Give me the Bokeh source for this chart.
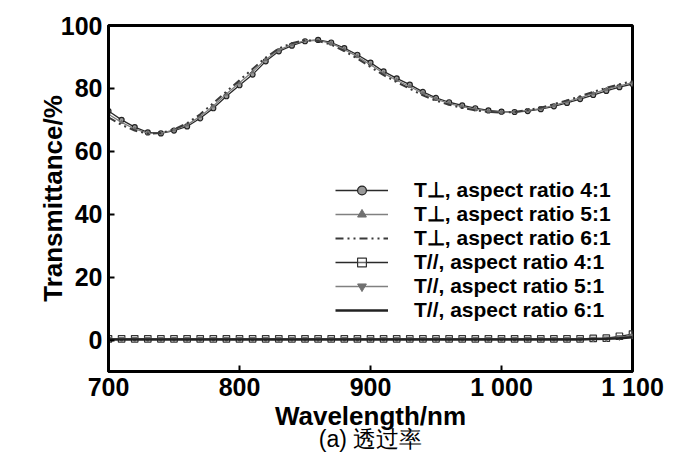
from bokeh.plotting import figure
from bokeh.models import (Range1d, FixedTicker, Legend, LegendItem, LinearAxis,
                          ColumnDataSource)
from bokeh.embed import file_html
from bokeh.resources import INLINE

wavelength = [700, 710, 720, 730, 740, 750, 760, 770, 780, 790,
              800, 810, 820, 830, 840, 850, 860, 870, 880, 890,
              900, 910, 920, 930, 940, 950, 960, 970, 980, 990,
              1000, 1010, 1020, 1030, 1040, 1050, 1060, 1070, 1080, 1090, 1100]

t_perp_4 = [72.8, 70.0, 67.7, 66.0, 65.7, 66.6, 67.9, 70.5, 73.7, 77.5,
            81.0, 84.4, 88.6, 91.8, 93.6, 95.0, 95.4, 94.6, 92.8, 90.7,
            88.2, 85.4, 83.2, 81.2, 78.9, 77.0, 75.6, 74.6, 73.7, 73.0,
            72.6, 72.5, 72.8, 73.4, 74.3, 75.4, 76.6, 77.9, 79.2, 80.4, 81.4]
t_perp_5 = [71.8, 69.2, 67.1, 65.8, 65.7, 66.8, 68.4, 71.1, 74.4, 78.2,
            81.8, 85.3, 89.2, 92.2, 94.0, 95.2, 95.3, 94.3, 92.4, 90.1,
            87.5, 84.8, 82.6, 80.6, 78.4, 76.6, 75.2, 74.2, 73.4, 72.8,
            72.5, 72.5, 73.0, 73.6, 74.6, 75.8, 77.0, 78.4, 79.7, 80.8, 81.8]
t_perp_6 = [70.8, 68.4, 66.6, 65.6, 65.8, 67.0, 68.9, 71.8, 75.3, 79.0,
            82.6, 86.2, 89.8, 92.7, 94.4, 95.3, 95.1, 93.9, 91.9, 89.5,
            86.8, 84.2, 82.0, 79.9, 77.8, 76.1, 74.8, 73.8, 73.0, 72.5,
            72.3, 72.5, 73.1, 73.9, 75.0, 76.2, 77.5, 78.9, 80.2, 81.3, 82.3]
t_par_4 = [0.4, 0.4, 0.4, 0.4, 0.4, 0.4, 0.4, 0.4, 0.4, 0.4,
           0.4, 0.4, 0.4, 0.4, 0.4, 0.4, 0.4, 0.4, 0.4, 0.4,
           0.4, 0.4, 0.4, 0.4, 0.4, 0.4, 0.4, 0.4, 0.4, 0.4,
           0.4, 0.4, 0.4, 0.4, 0.4, 0.4, 0.4, 0.5, 0.6, 1.2, 1.9]
t_par_5 = [0.3, 0.3, 0.3, 0.3, 0.3, 0.3, 0.3, 0.3, 0.3, 0.3,
           0.3, 0.3, 0.3, 0.3, 0.3, 0.3, 0.3, 0.3, 0.3, 0.3,
           0.3, 0.3, 0.3, 0.3, 0.3, 0.3, 0.3, 0.3, 0.3, 0.3,
           0.3, 0.3, 0.3, 0.3, 0.3, 0.3, 0.3, 0.4, 0.5, 0.9, 1.3]
t_par_6 = [0.2, 0.2, 0.2, 0.2, 0.2, 0.2, 0.2, 0.2, 0.2, 0.2,
           0.2, 0.2, 0.2, 0.2, 0.2, 0.2, 0.2, 0.2, 0.2, 0.2,
           0.2, 0.2, 0.2, 0.2, 0.2, 0.2, 0.2, 0.2, 0.2, 0.2,
           0.2, 0.2, 0.2, 0.2, 0.2, 0.2, 0.2, 0.3, 0.4, 0.6, 0.9]

labels = ["T\u22a5, aspect ratio 4:1", "T\u22a5, aspect ratio 5:1", "T\u22a5, aspect ratio 6:1",
          "T//, aspect ratio 4:1", "T//, aspect ratio 5:1", "T//, aspect ratio 6:1"]
x_ticks = [700, 800, 900, 1000, 1100]
x_tick_labels = ["700", "800", "900", "1 000", "1 100"]
y_ticks = [0, 20, 40, 60, 80, 100]
x_title = "Wavelength/nm"
y_title = "Transmittance/%"
caption = "(a) 透过率"

FONT = "Liberation Sans"

p = figure(width=686, height=455, output_backend="svg", toolbar_location=None,
           x_range=Range1d(700, 1100), y_range=Range1d(-10, 100),
           min_border_left=108, min_border_right=54, min_border_top=25, min_border_bottom=84)
p.xgrid.visible = False
p.ygrid.visible = False
p.outline_line_color = "black"
p.outline_line_width = 3
p.background_fill_color = "white"
p.border_fill_color = "white"

src = ColumnDataSource(dict(x=wavelength, p4=t_perp_4, p5=t_perp_5, p6=t_perp_6,
                            q4=t_par_4, q5=t_par_5, q6=t_par_6))

items = []
l1 = p.line("x", "p4", source=src, line_color="#2a2a2a", line_width=1.3)
m1 = p.scatter("x", "p4", source=src, marker="circle", size=5, line_color="#222222",
               fill_color="#999999", line_width=1.2)
items.append(LegendItem(label=labels[0], renderers=[l1, m1]))
l2 = p.line("x", "p5", source=src, line_color="#808080", line_width=1.3)
m2 = p.scatter("x", "p5", source=src, marker="triangle", size=3.5, line_color="#707070",
               fill_color="#707070")
items.append(LegendItem(label=labels[1], renderers=[l2, m2]))
l3 = p.line("x", "p6", source=src, line_color="#3a3a3a", line_width=2,
            line_dash="8 4 2 4 2 4")
items.append(LegendItem(label=labels[2], renderers=[l3]))
l4 = p.line("x", "q4", source=src, line_color="#2a2a2a", line_width=1.3)
m4 = p.scatter("x", "q4", source=src, marker="square", size=6.5, line_color="#333333",
               fill_color="white", fill_alpha=0.3, line_width=1.2)
items.append(LegendItem(label=labels[3], renderers=[l4, m4]))
l5 = p.line("x", "q5", source=src, line_color="#808080", line_width=1.3)
m5 = p.scatter("x", "q5", source=src, marker="inverted_triangle", size=5.5, line_color="#707070",
               fill_color="#707070")
items.append(LegendItem(label=labels[4], renderers=[l5, m5]))
l6 = p.line("x", "q6", source=src, line_color="#222222", line_width=2.5)
items.append(LegendItem(label=labels[5], renderers=[l6]))

legend = Legend(items=items, location=(227, 49), border_line_color=None,
                background_fill_alpha=0, padding=0, margin=0, spacing=0,
                glyph_width=53, glyph_height=22, label_height=22, label_standoff=26,
                label_text_font=FONT, label_text_font_style="bold",
                label_text_font_size="21px", label_text_color="black")
p.add_layout(legend)

for ax in (p.xaxis[0], p.yaxis[0]):
    ax.axis_line_width = 3
    ax.axis_line_color = "black"
    ax.major_tick_in = 6
    ax.major_tick_out = 0
    ax.major_tick_line_width = 2
    ax.minor_tick_in = 0
    ax.minor_tick_out = 0
    ax.major_label_text_font = FONT
    ax.major_label_text_font_style = "bold"
    ax.major_label_text_font_size = "25px"
    ax.major_label_text_color = "black"
    ax.axis_label_text_font = FONT
    ax.axis_label_text_font_style = "bold"
    ax.axis_label_text_font_size = "26px"
    ax.axis_label_text_color = "black"

p.xaxis[0].ticker = FixedTicker(ticks=x_ticks)
p.xaxis[0].major_label_overrides = {t: s for t, s in zip(x_ticks, x_tick_labels)}
p.yaxis[0].ticker = FixedTicker(ticks=y_ticks)
p.xaxis[0].axis_label = x_title
p.yaxis[0].axis_label = y_title
p.xaxis[0].major_label_standoff = 1
p.xaxis[0].axis_label_standoff = -3
p.yaxis[0].major_label_standoff = 6
p.yaxis[0].axis_label_standoff = -10

cap_axis = LinearAxis(ticker=FixedTicker(ticks=[]), axis_line_color=None,
                      major_tick_line_color=None, minor_tick_line_color=None,
                      major_label_standoff=0, axis_label_standoff=-8,
                      axis_label=caption, axis_label_text_font=FONT,
                      axis_label_text_font_style="normal",
                      axis_label_text_font_size="23px", axis_label_text_color="black")
p.add_layout(cap_axis, "below")

open("out.html", "w").write(file_html(p, INLINE))
